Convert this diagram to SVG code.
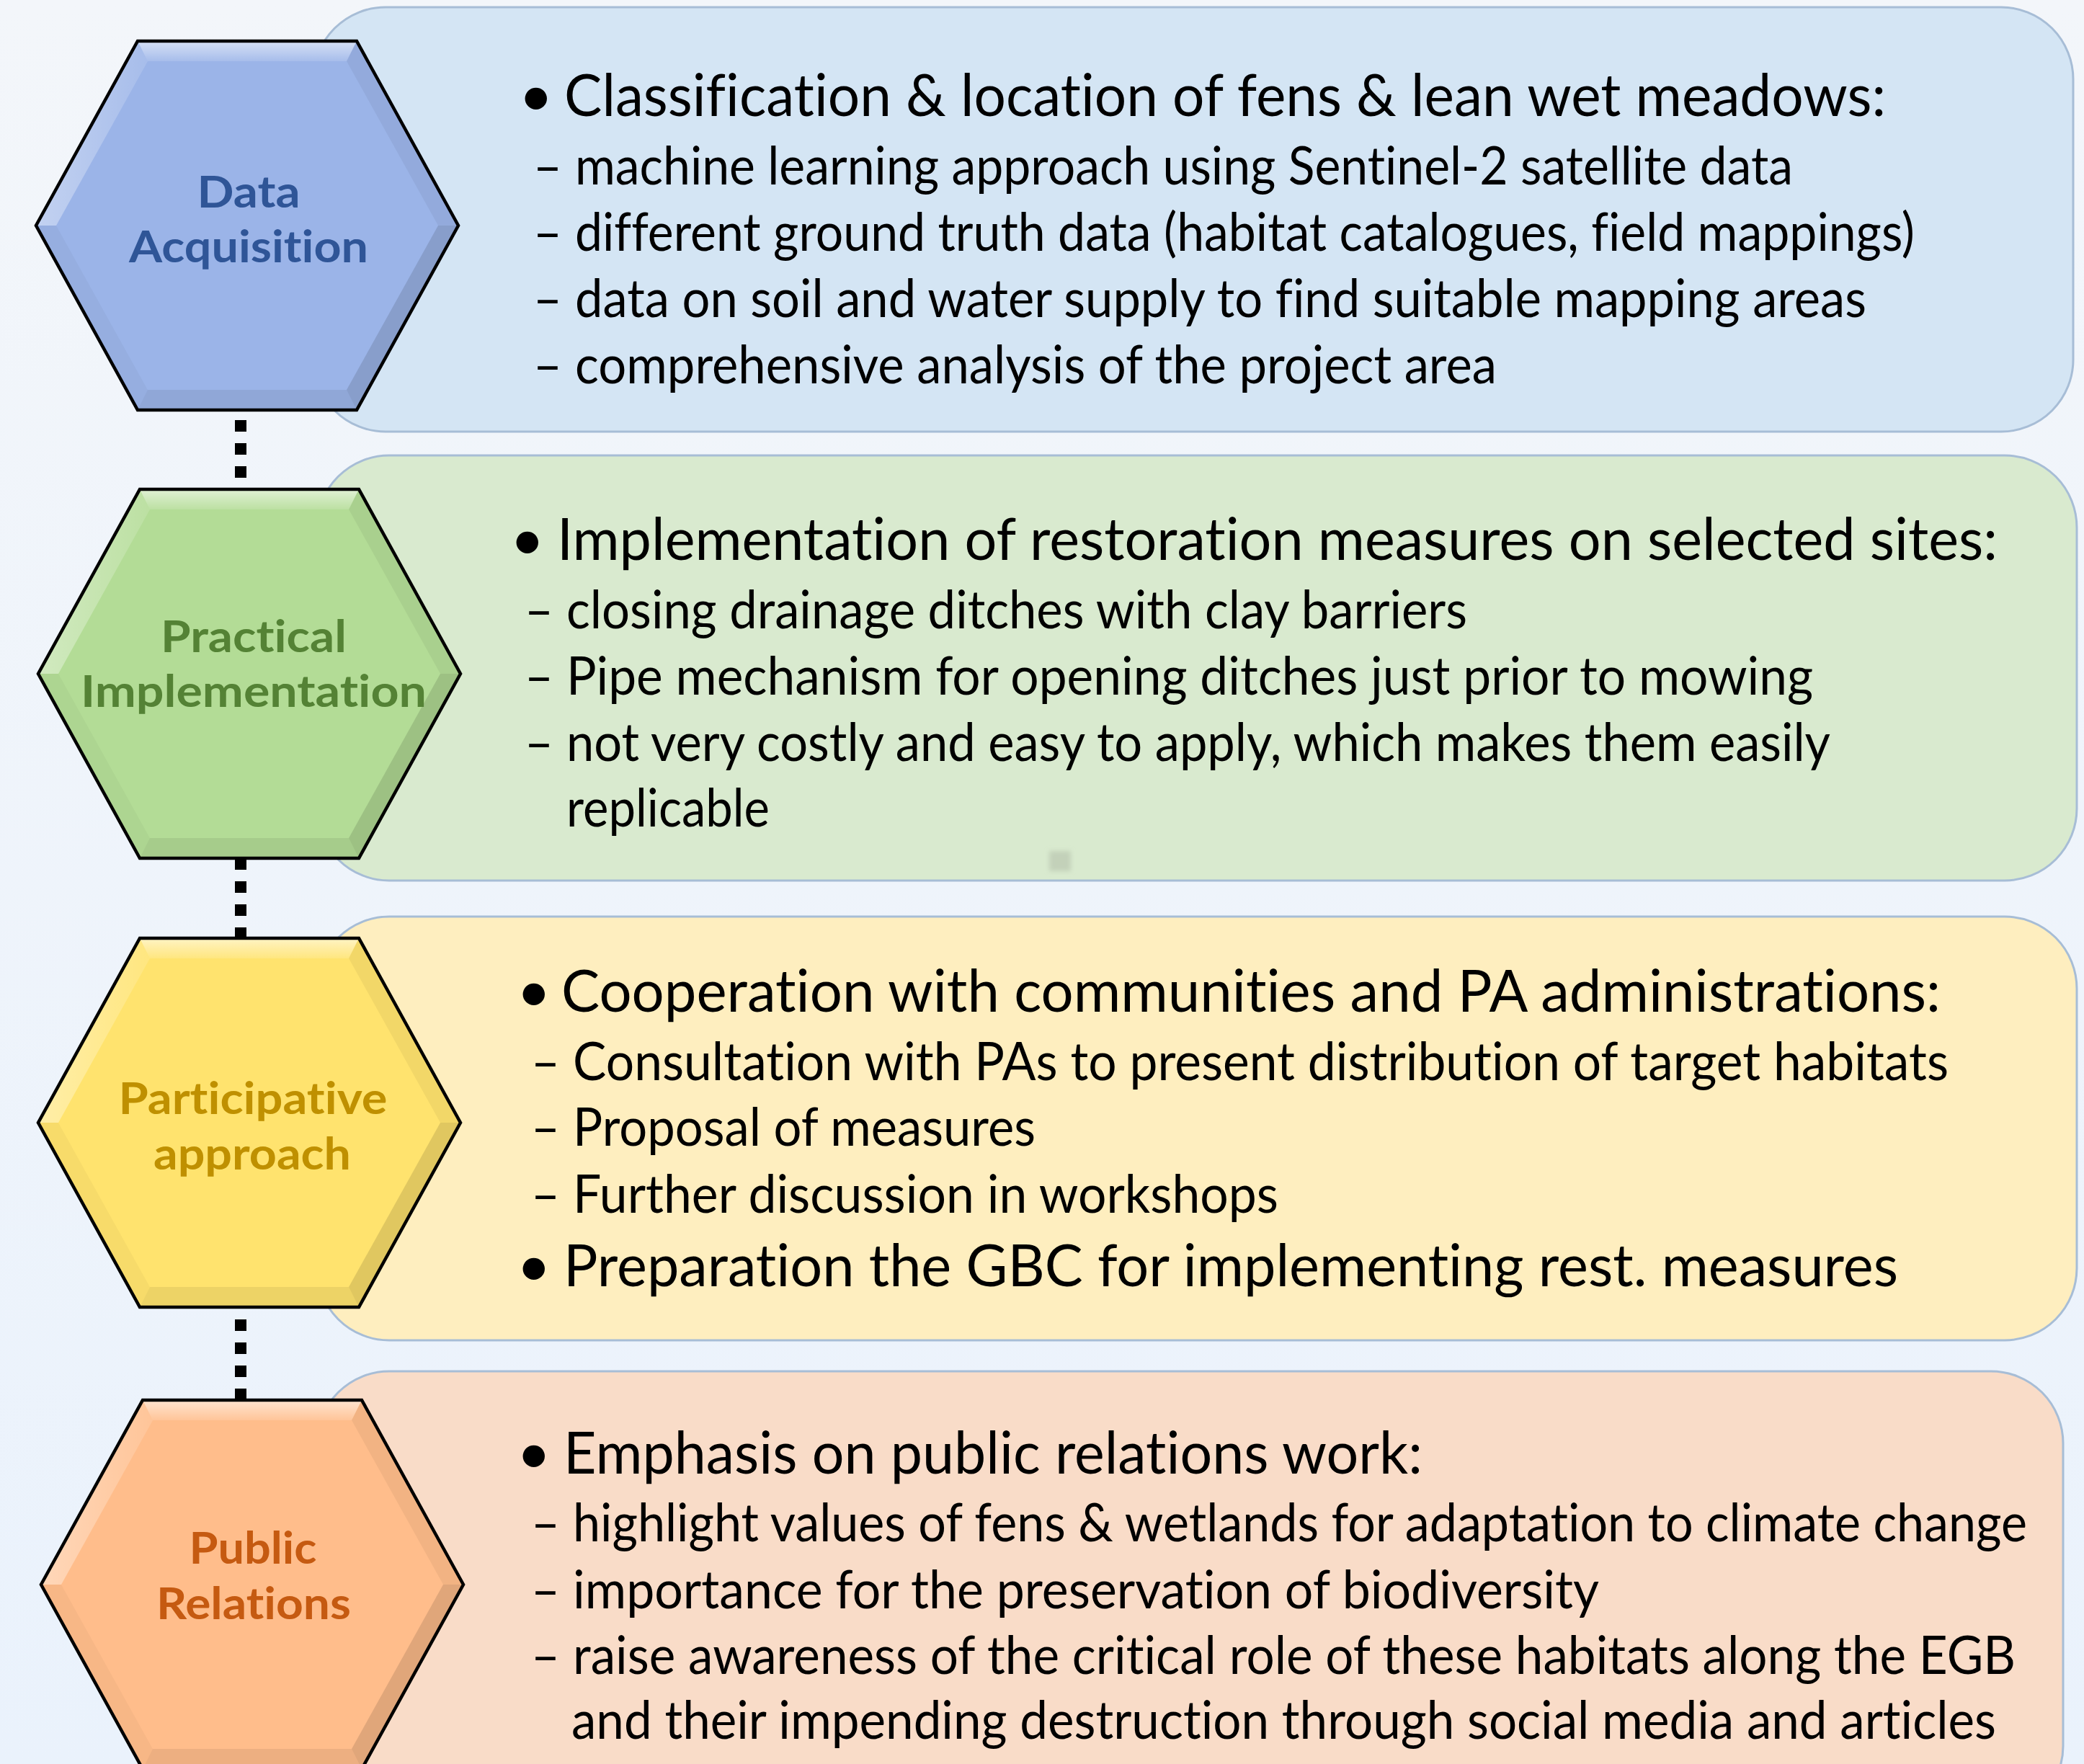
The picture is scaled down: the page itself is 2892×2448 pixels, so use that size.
<svg xmlns="http://www.w3.org/2000/svg" width="2892" height="2448" viewBox="0 0 2892 2448">
<defs>
<linearGradient id="bg" x1="0" y1="0" x2="0" y2="1"><stop offset="0" stop-color="#f3f6fa"/><stop offset="1" stop-color="#eaf2fc"/></linearGradient>
<linearGradient id="topHi" x1="0" y1="0" x2="0" y2="1"><stop offset="0" stop-color="#fff" stop-opacity="0.6"/><stop offset="1" stop-color="#fff" stop-opacity="0.12"/></linearGradient>
<linearGradient id="leftHi" x1="0" y1="0" x2="1" y2="0"><stop offset="0" stop-color="#fff" stop-opacity="0.4"/><stop offset="1" stop-color="#fff" stop-opacity="0.12"/></linearGradient>
<path id="hexShape" d="M-152,-256 H152 L293,0 L152,256 H-152 L-293,0 Z"/>
<g id="bevel">
<polygon points="-152,-256 152,-256 138,-228 -138,-228" fill="url(#topHi)"/>
<polygon points="152,-256 293,0 265,0 138,-228" fill="#000" fill-opacity="0.05"/>
<polygon points="293,0 152,256 138,228 265,0" fill="#000" fill-opacity="0.12"/>
<polygon points="152,256 -152,256 -138,228 138,228" fill="#000" fill-opacity="0.07"/>
<polygon points="-152,256 -293,0 -265,0 -138,228" fill="#000" fill-opacity="0.03"/>
<polygon points="-293,0 -152,-256 -138,-228 -265,0" fill="url(#leftHi)"/>
</g>
<filter id="soft" x="-50%" y="-50%" width="200%" height="200%"><feGaussianBlur stdDeviation="3"/></filter>
</defs>
<style>
text{font-variant-ligatures:none;font-feature-settings:"liga" 0,"dlig" 0,"clig" 0}
.box{stroke:#a7bdd6;stroke-width:3}
.hexo{fill:none;stroke:#000;stroke-width:4.5;stroke-linejoin:miter}
.lbl{font-family:Lato,"Liberation Sans",sans-serif;font-weight:700;font-size:61px;text-anchor:middle}
.t{font-family:Lato,"Liberation Sans",sans-serif;fill:#000}
.main{font-size:82px}
.sub{font-size:73px}
.dots{stroke:#000;stroke-width:16;stroke-dasharray:16 16;fill:none}
</style>
<rect x="0" y="0" width="2892" height="2448" fill="url(#bg)"/>

<g id="box-data">
<rect class="box" x="435" y="10" width="2442" height="589" rx="100" fill="#d4e5f4"/>
<text class="t main" x="720" y="161">•</text>
<text class="t main" x="783" y="161" textLength="1834" lengthAdjust="spacingAndGlyphs">Classification &amp; location of fens &amp; lean wet meadows:</text>
<text class="t sub" x="740" y="256" textLength="40" lengthAdjust="spacingAndGlyphs">–</text>
<text class="t sub" x="798" y="256" textLength="1690" lengthAdjust="spacingAndGlyphs">machine learning approach using Sentinel-2 satellite data</text>
<text class="t sub" x="740" y="348" textLength="40" lengthAdjust="spacingAndGlyphs">–</text>
<text class="t sub" x="798" y="348" textLength="1859" lengthAdjust="spacingAndGlyphs">different ground truth data (habitat catalogues, field mappings)</text>
<text class="t sub" x="740" y="440" textLength="40" lengthAdjust="spacingAndGlyphs">–</text>
<text class="t sub" x="798" y="440" textLength="1792" lengthAdjust="spacingAndGlyphs">data on soil and water supply to find suitable mapping areas</text>
<text class="t sub" x="740" y="532" textLength="40" lengthAdjust="spacingAndGlyphs">–</text>
<text class="t sub" x="798" y="532" textLength="1279" lengthAdjust="spacingAndGlyphs">comprehensive analysis of the project area</text>
</g>

<g id="box-practical">
<rect class="box" x="440" y="632" width="2442" height="590" rx="100" fill="#d9eacf"/>
<rect x="1456" y="1181" width="30" height="28" fill="#c3d1b9" filter="url(#soft)"/>
<text class="t main" x="708" y="777">•</text>
<text class="t main" x="773" y="777" textLength="1999" lengthAdjust="spacingAndGlyphs">Implementation of restoration measures on selected sites:</text>
<text class="t sub" x="728" y="872" textLength="40" lengthAdjust="spacingAndGlyphs">–</text>
<text class="t sub" x="786" y="872" textLength="1250" lengthAdjust="spacingAndGlyphs">closing drainage ditches with clay barriers</text>
<text class="t sub" x="728" y="964" textLength="40" lengthAdjust="spacingAndGlyphs">–</text>
<text class="t sub" x="786" y="964" textLength="1730" lengthAdjust="spacingAndGlyphs">Pipe mechanism for opening ditches just prior to mowing</text>
<text class="t sub" x="728" y="1056" textLength="40" lengthAdjust="spacingAndGlyphs">–</text>
<text class="t sub" x="786" y="1056" textLength="1754" lengthAdjust="spacingAndGlyphs">not very costly and easy to apply, which makes them easily</text>
<text class="t sub" x="786" y="1147" textLength="282" lengthAdjust="spacingAndGlyphs">replicable</text>
</g>

<g id="box-participative">
<rect class="box" x="440" y="1272" width="2442" height="588" rx="100" fill="#feeebf"/>
<text class="t main" x="717" y="1404">•</text>
<text class="t main" x="779" y="1404" textLength="1914" lengthAdjust="spacingAndGlyphs">Cooperation with communities and PA administrations:</text>
<text class="t sub" x="737" y="1499" textLength="40" lengthAdjust="spacingAndGlyphs">–</text>
<text class="t sub" x="795" y="1499" textLength="1909" lengthAdjust="spacingAndGlyphs">Consultation with PAs to present distribution of target habitats</text>
<text class="t sub" x="737" y="1590" textLength="40" lengthAdjust="spacingAndGlyphs">–</text>
<text class="t sub" x="795" y="1590" textLength="642" lengthAdjust="spacingAndGlyphs">Proposal of measures</text>
<text class="t sub" x="737" y="1683" textLength="40" lengthAdjust="spacingAndGlyphs">–</text>
<text class="t sub" x="795" y="1683" textLength="979" lengthAdjust="spacingAndGlyphs">Further discussion in workshops</text>
<text class="t main" x="717" y="1785">•</text>
<text class="t main" x="782" y="1785" textLength="1852" lengthAdjust="spacingAndGlyphs">Preparation the GBC for implementing rest. measures</text>
</g>

<g id="box-public">
<rect class="box" x="440" y="1903" width="2423" height="620" rx="100" fill="#f9dcc8"/>
<text class="t main" x="717" y="2045">•</text>
<text class="t main" x="782" y="2045" textLength="1192" lengthAdjust="spacingAndGlyphs">Emphasis on public relations work:</text>
<text class="t sub" x="737" y="2139" textLength="40" lengthAdjust="spacingAndGlyphs">–</text>
<text class="t sub" x="795" y="2139" textLength="2018" lengthAdjust="spacingAndGlyphs">highlight values of fens &amp; wetlands for adaptation to climate change</text>
<text class="t sub" x="737" y="2232" textLength="40" lengthAdjust="spacingAndGlyphs">–</text>
<text class="t sub" x="795" y="2232" textLength="1424" lengthAdjust="spacingAndGlyphs">importance for the preservation of biodiversity</text>
<text class="t sub" x="737" y="2323" textLength="40" lengthAdjust="spacingAndGlyphs">–</text>
<text class="t sub" x="795" y="2323" textLength="2002" lengthAdjust="spacingAndGlyphs">raise awareness of the critical role of these habitats along the EGB</text>
<text class="t sub" x="793" y="2413" textLength="1977" lengthAdjust="spacingAndGlyphs">and their impending destruction through social media and articles</text>
</g>

<g id="connectors">
<line class="dots" x1="334" y1="583" x2="334" y2="663"/>
<line class="dots" x1="334" y1="1191" x2="334" y2="1303"/>
<line class="dots" x1="334" y1="1831" x2="334" y2="1943"/>
</g>

<g id="hex-data">
<g transform="translate(343,313)"><use href="#hexShape" fill="#9bb4e8"/><use href="#bevel"/><use href="#hexShape" class="hexo"/></g>
<text class="lbl" x="345" y="288" fill="#2f5597" textLength="143" lengthAdjust="spacingAndGlyphs">Data</text>
<text class="lbl" x="345" y="364" fill="#2f5597" textLength="332" lengthAdjust="spacingAndGlyphs">Acquisition</text>
</g>
<g id="hex-practical">
<g transform="translate(346,935)"><use href="#hexShape" fill="#b3dc96"/><use href="#bevel"/><use href="#hexShape" class="hexo"/></g>
<text class="lbl" x="352" y="905" fill="#548235" textLength="258" lengthAdjust="spacingAndGlyphs">Practical</text>
<text class="lbl" x="352" y="981" fill="#548235" textLength="480" lengthAdjust="spacingAndGlyphs">Implementation</text>
</g>
<g id="hex-participative">
<g transform="translate(346,1558)"><use href="#hexShape" fill="#ffe36e"/><use href="#bevel"/><use href="#hexShape" class="hexo"/></g>
<text class="lbl" x="351" y="1546" fill="#bf9000" textLength="373" lengthAdjust="spacingAndGlyphs">Participative</text>
<text class="lbl" x="350" y="1623" fill="#bf9000" textLength="274" lengthAdjust="spacingAndGlyphs">approach</text>
</g>
<g id="hex-public">
<g transform="translate(350,2199)"><use href="#hexShape" fill="#ffbd8b"/><use href="#bevel"/><use href="#hexShape" class="hexo"/></g>
<text class="lbl" x="351" y="2170" fill="#c55a11" textLength="177" lengthAdjust="spacingAndGlyphs">Public</text>
<text class="lbl" x="352" y="2247" fill="#c55a11" textLength="270" lengthAdjust="spacingAndGlyphs">Relations</text>
</g>
</svg>
